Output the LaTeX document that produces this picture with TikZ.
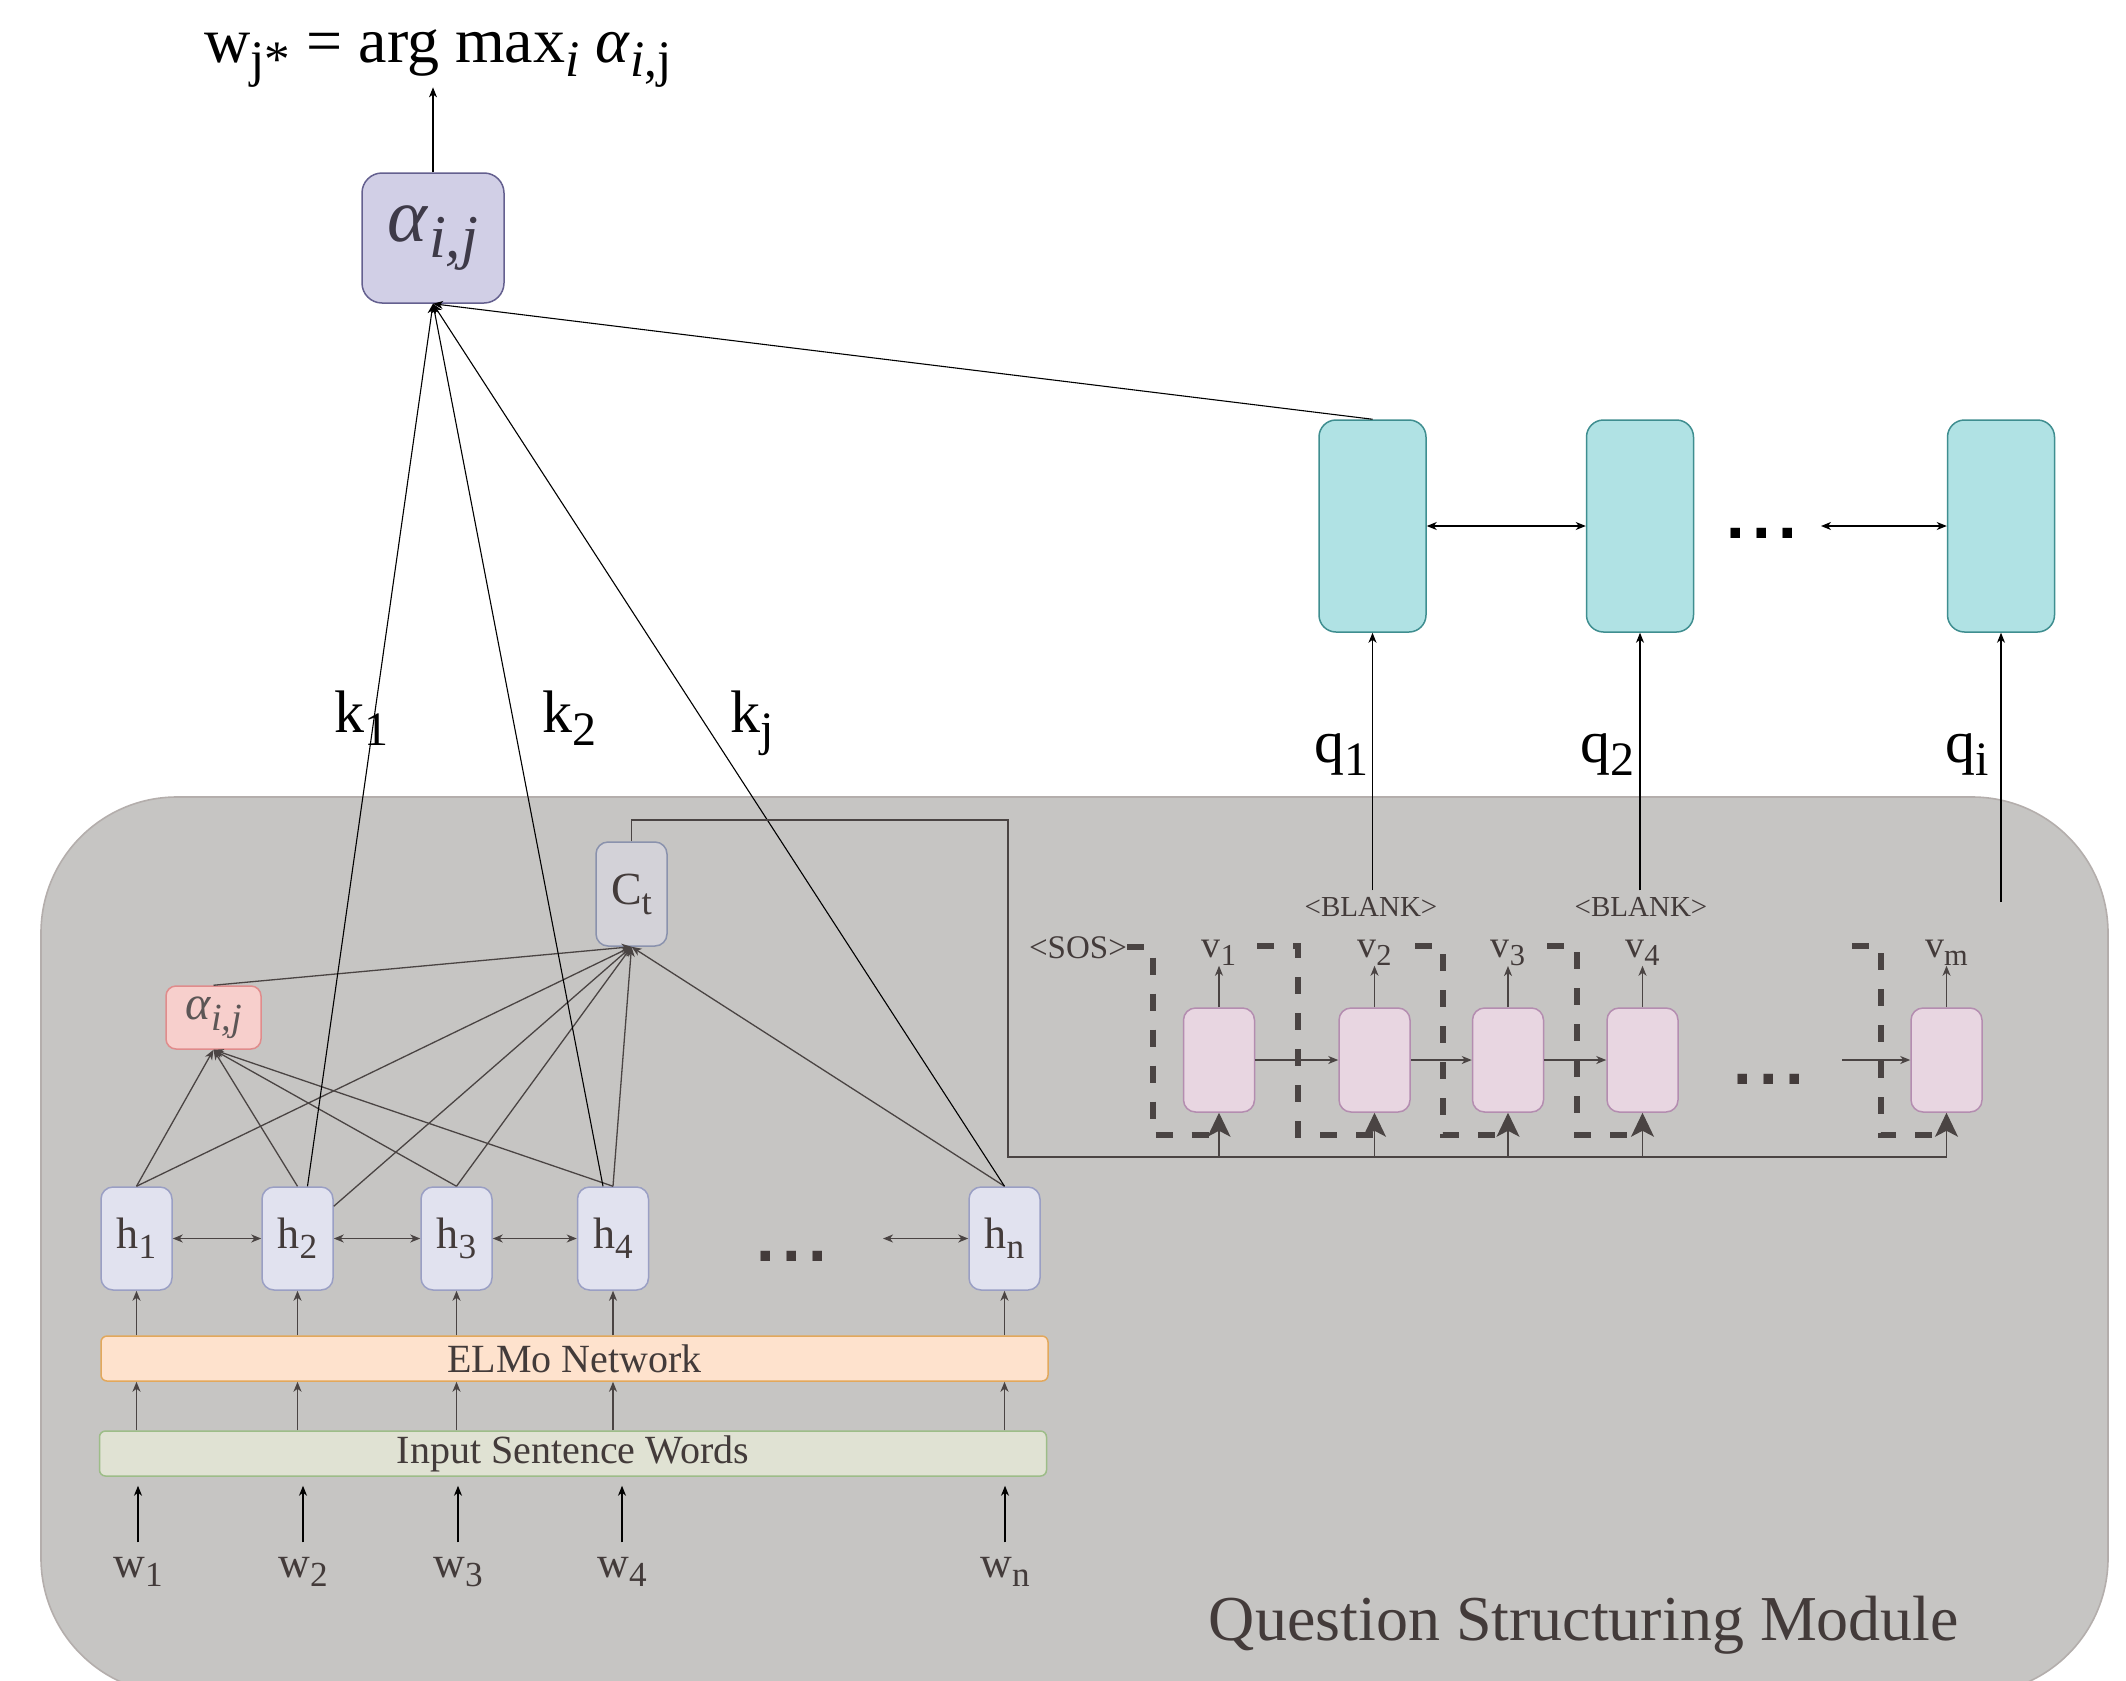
\documentclass[tikz,border=0pt]{standalone}
\usepackage{fontspec}
\setmainfont{Liberation Serif}
\newfontfamily\dotsfont{DejaVu Sans}
\usetikzlibrary{arrows.meta}
\newcommand\myfs[1]{\fontsize{#1}{#1}\selectfont}
\newcommand\sbs[1]{\raisebox{-0.22em}{\scalebox{0.8}{#1}}}
\newcommand\mydots{{\dotsfont\bfseries .\hspace{0.1em}.\hspace{0.1em}.}}
\definecolor{txt}{HTML}{433B3A}
\definecolor{ln}{HTML}{4A4443}
\definecolor{graybg}{HTML}{C6C5C3}
\definecolor{grayedge}{HTML}{B4AEAC}
\definecolor{tealf}{HTML}{B0E2E4}
\definecolor{teald}{HTML}{3F8E90}
\definecolor{lavf}{HTML}{D1CFE6}
\definecolor{lavd}{HTML}{64608F}
\definecolor{abtxt}{HTML}{3E3A48}
\definecolor{hf}{HTML}{E1E2EF}
\definecolor{hd}{HTML}{9A9FC4}
\definecolor{elf}{HTML}{FEE2CD}
\definecolor{eld}{HTML}{E2A85C}
\definecolor{inf}{HTML}{E0E2D3}
\definecolor{ind}{HTML}{9DBD88}
\definecolor{ctf}{HTML}{D3D2D8}
\definecolor{ctd}{HTML}{8A92AD}
\definecolor{asf}{HTML}{F7CFCC}
\definecolor{asd}{HTML}{E08C8C}
\definecolor{astxt}{HTML}{5C5656}
\definecolor{pf}{HTML}{E8D6E1}
\definecolor{pd}{HTML}{B48DB0}
\begin{document}
\begin{tikzpicture}[x=0.5pt,y=-0.5pt,
  every node/.style={inner sep=0pt},
  rbox/.style={draw, line width=0.75pt, rounded corners=6pt},
  tbox/.style={rbox, fill=tealf, draw=teald, minimum width=53.5pt, minimum height=106pt, rounded corners=8.5pt},
  abox/.style={rbox, fill=lavf, draw=lavd, minimum width=71pt, minimum height=65pt, rounded corners=10pt, text=abtxt, font=\myfs{38}},
  hbox/.style={rbox, fill=hf, draw=hd, minimum width=35.5pt, minimum height=51.5pt, text=txt, font=\myfs{22}},
  ctbox/.style={rbox, fill=ctf, draw=ctd, minimum width=35.5pt, minimum height=52pt, text=txt, font=\myfs{23}},
  asbox/.style={rbox, fill=asf, draw=asd, minimum width=47.5pt, minimum height=31.5pt, rounded corners=5pt, text=astxt, font=\myfs{24}},
  pbox/.style={rbox, fill=pf, draw=pd, minimum width=35.5pt, minimum height=52pt},
  band/.style={rbox, rounded corners=3pt, minimum width=473.5pt, minimum height=22.5pt, text=txt, font=\myfs{20}},
  biglbl/.style={anchor=base, text=black, font=\myfs{30}},
  wlbl/.style={anchor=base, text=txt, font=\myfs{22}, inner sep=7pt},
  vlbl/.style={anchor=base, text=txt, font=\myfs{19}},
  tok/.style={anchor=base, text=txt},
  dotlbl/.style={anchor=base, font=\myfs{27}},
  arr/.style={draw=ln, line width=0.65pt, -{Stealth[length=5pt,width=4pt,inset=1.5pt]}},
  barr/.style={draw=black, line width=0.55pt, -{Stealth[length=5pt,width=4pt,inset=1.5pt]}},
  darr/.style={draw=ln, line width=0.65pt, {Stealth[length=5pt,width=4pt,inset=1.5pt]}-{Stealth[length=5pt,width=4pt,inset=1.5pt]}},
  bdarr/.style={draw=black, line width=0.55pt, {Stealth[length=5pt,width=4pt,inset=1.5pt]}-{Stealth[length=5pt,width=4pt,inset=1.5pt]}},
  bigarr/.style={draw=ln, line width=0.65pt, -{Stealth[length=12pt,width=11.5pt,inset=3pt]}},
  dpath/.style={draw=ln, line width=2.8pt, dash pattern=on 8.5pt off 9.5pt}
]
\useasboundingbox (0,0) rectangle (2126,1681);
\fill[white] (0,0) rectangle (2126,1681);
\begin{scope}
  \clip (0,0) rectangle (2126,1681);
  \draw[fill=graybg, draw=grayedge, line width=0.8pt, rounded corners=68pt] (41,797) rectangle (2108,1694);
\end{scope}

% ---------- top part ----------
\node[anchor=base, text=black, font=\myfs{32}] (res) at (438,62)
  {w\sbs{j*} = arg max\sbs{\textit{i}} \textit{α}\sbs{\textit{i},j}};
\node[abox] (abig) at (433,238) {\textit{α}\sbs{\textit{i,j}}};

\node[tbox] (t1) at (1372.5,526) {};
\node[tbox] (t2) at (1640,526) {};
\node[tbox] (t3) at (2001,526) {};
\node[dotlbl, text=black] (tdots) at (1762,538) {\mydots};
\coordinate (tdl) at (1821,526);

\node[biglbl] (k1) at (361,732) {k\sbs{1}};
\node[biglbl] (k2) at (569,732) {k\sbs{2}};
\node[biglbl] (kj) at (752,732) {k\sbs{j}};
\node[biglbl] (q1) at (1341,762) {q\sbs{1}};
\node[biglbl] (q2) at (1607,762) {q\sbs{2}};
\node[biglbl] (qi) at (1967,762) {q\sbs{i}};

% ---------- encoder ----------
\node[hbox] (h1) at (136.5,1238.5) {h\sbs{1}};
\node[hbox] (h2) at (297.5,1238.5) {h\sbs{2}};
\node[hbox] (h3) at (456.5,1238.5) {h\sbs{3}};
\node[hbox] (h4) at (613,1238.5) {h\sbs{4}};
\node[hbox] (hn) at (1004.5,1238.5) {h\sbs{n}};
\node[dotlbl, text=txt] (hdots) at (792,1261) {\mydots};
\coordinate (hdl) at (883,1238.5);

\node[ctbox] (ct) at (631.5,894) {C\sbs{t}};
\node[asbox] (as) at (213.5,1017.5) {\textit{α}\sbs{\textit{i,j}}};

\node[band, fill=elf, draw=eld] (elmo) at (574.5,1358.5) {ELMo Network};
\node[band, fill=inf, draw=ind] (inp) at (573,1453.5) {Input Sentence Words};

\node[wlbl] (w1) at (138,1577) {w\sbs{1}};
\node[wlbl] (w2) at (303,1577) {w\sbs{2}};
\node[wlbl] (w3) at (458,1577) {w\sbs{3}};
\node[wlbl] (w4) at (622,1577) {w\sbs{4}};
\node[wlbl] (wn) at (1005,1577) {w\sbs{n}};

% ---------- decoder ----------
\node[pbox] (p1) at (1219,1060) {};
\node[pbox] (p2) at (1374.5,1060) {};
\node[pbox] (p3) at (1508,1060) {};
\node[pbox] (p4) at (1642.5,1060) {};
\node[pbox] (pm) at (1946.5,1060) {};
\node[dotlbl, text=txt] (pdots) at (1769,1084) {\mydots};
\coordinate (pmin) at (1842,1060);

\node[vlbl] (v1) at (1219,957) {v\sbs{1}};
\node[vlbl] (v2) at (1374.5,957) {v\sbs{2}};
\node[vlbl] (v3) at (1508,957) {v\sbs{3}};
\node[vlbl] (v4) at (1642.5,957) {v\sbs{4}};
\node[vlbl] (vm) at (1946.5,957) {v\sbs{m}};

\node[tok, font=\myfs{16.5}] (sos) at (1078,958) {<SOS>};
\node[tok, font=\myfs{14.5}] (b1) at (1371,916) {<BLANK>};
\node[tok, font=\myfs{14.5}] (b2) at (1641,916) {<BLANK>};
\path ([yshift=3pt]b1.north) coordinate (b1t);
\path ([yshift=3pt]b2.north) coordinate (b2t);
\coordinate (qis) at (1997,902);

\node[anchor=base, text=txt, font=\myfs{32}] (qsm) at (1584,1640) {Question Structuring Module};

\coordinate (bus1) at (1008,820);
\coordinate (bus2) at (1008,1157);
\coordinate (c1) at (1153,1135);
\coordinate (s2) at (1257,946);
\coordinate (c2) at (1298,1135);
\coordinate (s3) at (1415,946);
\coordinate (c3) at (1443,1135);
\coordinate (s4) at (1547,946);
\coordinate (c4) at (1577,1135);
\coordinate (s5) at (1852,946);
\coordinate (c5) at (1881,1135);

% ---------- connectors: top ----------
\draw[barr] (abig.north) -- (abig.north |- res.south);
\draw[barr] (t1.north) -- (abig.south);
\draw[bdarr] (t1.east) -- (t2.west);
\draw[bdarr] (tdl) -- (t3.west);
\draw[barr] (t1.south |- b1t) -- (t1.south);
\draw[barr] (t2.south |- b2t) -- (t2.south);
\draw[barr] (t3.south |- qis) -- (t3.south);

% ---------- encoder connectors ----------
\foreach \h in {h1,h2,h3,h4,hn} {
  \draw[arr] (elmo.north -| \h) -- (\h.south);
  \draw[arr] (inp.north -| \h) -- (elmo.south -| \h);
}
\foreach \w in {w1,w2,w3,w4,wn} {
  \draw[barr] (\w.north) -- ([yshift=-4.5pt]inp.south -| \w);
}
\draw[darr] (h1.east) -- (h2.west);
\draw[darr] (h2.east) -- (h3.west);
\draw[darr] (h3.east) -- (h4.west);
\draw[darr] (hdl) -- (hn.west);

\foreach \h in {h1,h2,h3,h4} {
  \draw[arr] (\h.north) -- (as.south);
}
\draw[arr] (h1.north) -- (ct.south);
\draw[arr] ([yshift=-10pt]h2.north east) -- (ct.south);
\draw[arr] (h3.north) -- (ct.south);
\draw[arr] (h4.north) -- (ct.south);
\draw[arr] (hn.north) -- (ct.south);
\draw[arr] (as.north) -- (ct.south);

\draw[barr] ([xshift=5pt]h2.north) -- (abig.south);
\draw[barr] ([xshift=-5pt]h4.north) -- (abig.south);
\draw[barr] (hn.north) -- (abig.south);

% ---------- decoder connectors ----------
\draw[arr] (p1.east) -- (p2.west);
\draw[arr] (p2.east) -- (p3.west);
\draw[arr] (p3.east) -- (p4.west);
\draw[arr] (pmin) -- (pm.west);
\foreach \p/\v in {p1/v1,p2/v2,p3/v3,p4/v4,pm/vm} {
  \draw[arr] (\p.north) -- (\v.south);
}

\draw[dpath] (sos.east) -| (c1) -- (p1.south |- c1);
\draw[dpath] (s2) -| (c2) -- (p2.south |- c2);
\draw[dpath] (s3) -| (c3) -- (p3.south |- c3);
\draw[dpath] (s4) -| (c4) -- (p4.south |- c4);
\draw[dpath] (s5) -| (c5) -- (pm.south |- c5);

\draw[bigarr] (ct.north) |- (bus1) -- (bus2) -| (pm.south);
\foreach \p in {p1,p2,p3,p4} {
  \draw[bigarr] (\p.south |- bus2) -- (\p.south);
}
\end{tikzpicture}
\end{document}
